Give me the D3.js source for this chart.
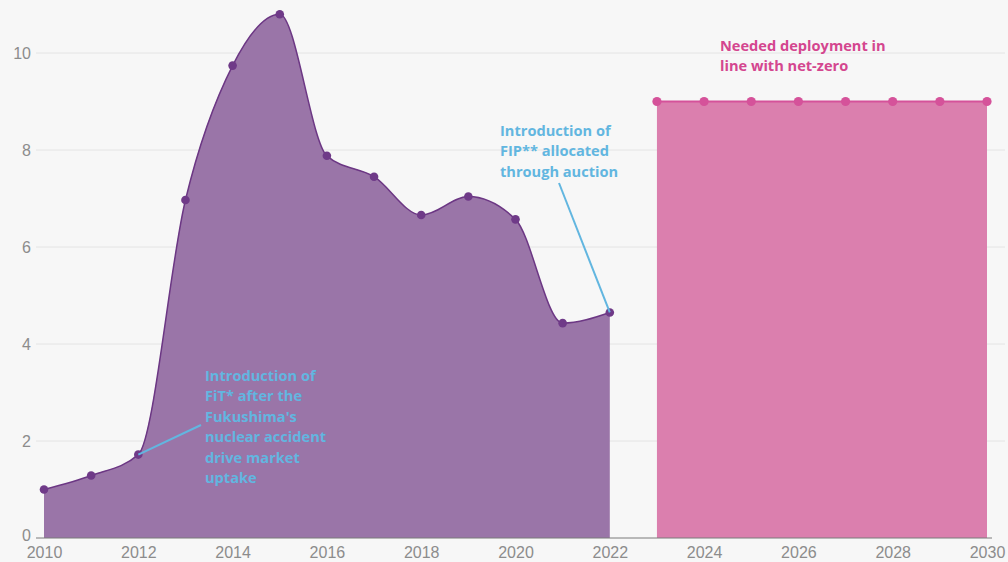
<!DOCTYPE html>
<html lang="en">
<head>
    <meta charset="UTF-8">
    <title>Deployment chart</title>
    <style>
        body {
            margin: 0;
            background-color: #f7f7f7;
        }
        svg {
            display: block;
            font-family: Roboto, "Open Sans", sans-serif;
        }
        .tick text {
            fill: #8c8c8c;
            font-size: 16px;
            font-weight: 300;
        }
        .note {
            font-family: "Open Sans", sans-serif;
            font-weight: bold;
            font-size: 14.6px;
        }
    </style>
    <script src="https://d3js.org/d3.v7.min.js"></script>
</head>
<body>
    <svg width="1008" height="562"></svg>

    <script>
        // historical capacity additions
        const histYears = [2010, 2011, 2012, 2013, 2014, 2015, 2016, 2017, 2018, 2019, 2020, 2021, 2022];
        const histValues = [1.0, 1.29, 1.72, 6.97, 9.74, 10.8, 7.88, 7.45, 6.66, 7.04, 6.57, 4.43, 4.65];

        // needed deployment in line with net-zero
        const needYears = [2023, 2024, 2025, 2026, 2027, 2028, 2029, 2030];
        const needValues = [9, 9, 9, 9, 9, 9, 9, 9];

        const xTicks = [2010, 2012, 2014, 2016, 2018, 2020, 2022, 2024, 2026, 2028, 2030];
        const yTicks = [0, 2, 4, 6, 8, 10];

        const fitNote = ["Introduction of", "FiT* after the", "Fukushima's", "nuclear accident", "drive market", "uptake"];
        const fipNote = ["Introduction of", "FIP** allocated", "through auction"];
        const needNote = ["Needed deployment in", "line with net-zero"];

        const hist = histYears.map((y, i) => ({year: y, value: histValues[i]}));
        const need = needYears.map((y, i) => ({year: y, value: needValues[i]}));

        const svg = d3.select("svg");

        const x = d3.scaleLinear().domain([2010, 2030]).range([44, 987]);
        const y = d3.scaleLinear().domain([0, 10]).range([538, 53]);

        // Сітка
        svg.append("g")
            .selectAll("line")
            .data(yTicks.filter(d => d > 0))
            .enter().append("line")
            .attr("x1", 36)
            .attr("x2", 1005)
            .attr("y1", d => y(d))
            .attr("y2", d => y(d))
            .style("stroke", "#e4e4e4")
            .style("stroke-width", 1);

        // y axis labels
        const yAxis = svg.append("g")
            .attr("transform", "translate(35,0)")
            .call(d3.axisLeft(y).tickValues(yTicks).tickSize(0).tickPadding(4));
        yAxis.select(".domain").remove();
        yAxis.selectAll(".tick text").attr("dy", d => d === 0 ? "0.15em" : "0.32em");

        // areas
        const histArea = d3.area()
            .x(d => x(d.year))
            .y0(y(0))
            .y1(d => y(d.value))
            .curve(d3.curveMonotoneX);
        const histLine = d3.line()
            .x(d => x(d.year))
            .y(d => y(d.value))
            .curve(d3.curveMonotoneX);

        svg.append("path")
            .datum(hist)
            .attr("d", histArea)
            .style("fill", "#9a75a8");
        svg.append("path")
            .datum(hist)
            .attr("d", histLine)
            .style("fill", "none")
            .style("stroke", "#6c3784")
            .style("stroke-width", 1.5);

        const needArea = d3.area()
            .x(d => x(d.year))
            .y0(y(0))
            .y1(d => y(d.value));

        svg.append("path")
            .datum(need)
            .attr("d", needArea)
            .style("fill", "#db7fae");
        svg.append("path")
            .datum(need)
            .attr("d", d3.line().x(d => x(d.year)).y(d => y(d.value)))
            .style("fill", "none")
            .style("stroke", "#d5529a")
            .style("stroke-width", 2);

        // baseline
        svg.append("line")
            .attr("x1", 36)
            .attr("x2", 992)
            .attr("y1", y(0))
            .attr("y2", y(0))
            .style("stroke", "#7a7a7a")
            .style("stroke-width", 1);

        // x axis labels
        const xAxis = svg.append("g")
            .attr("transform", `translate(0,${y(0)})`)
            .call(d3.axisBottom(x).tickValues(xTicks).tickFormat(d3.format("d")).tickSize(0).tickPadding(9));
        xAxis.select(".domain").remove();

        // points
        svg.selectAll("circle.hist")
            .data(hist)
            .enter().append("circle")
            .attr("class", "hist")
            .attr("cx", d => x(d.year))
            .attr("cy", d => y(d.value))
            .attr("r", 4.3)
            .style("fill", "#6f3a88");

        svg.selectAll("circle.need")
            .data(need)
            .enter().append("circle")
            .attr("class", "need")
            .attr("cx", d => x(d.year))
            .attr("cy", d => y(d.value))
            .attr("r", 4.6)
            .style("fill", "#d5529a");

        // annotations
        const noteBlue = "#62b6e0";

        svg.append("line")
            .attr("x1", x(2012))
            .attr("y1", y(histValues[2]))
            .attr("x2", 201)
            .attr("y2", 425)
            .style("stroke", noteBlue)
            .style("stroke-width", 2);

        svg.append("line")
            .attr("x1", 559)
            .attr("y1", 183)
            .attr("x2", x(2022))
            .attr("y2", y(histValues[12]))
            .style("stroke", noteBlue)
            .style("stroke-width", 2);

        function addNote(lines, xPos, yPos, color) {
            svg.append("text")
                .attr("class", "note")
                .attr("x", xPos)
                .attr("y", yPos)
                .style("fill", color)
                .selectAll("tspan")
                .data(lines)
                .enter().append("tspan")
                .attr("x", xPos)
                .attr("dy", (d, i) => i === 0 ? 0 : 20.4)
                .text(d => d);
        }

        addNote(fitNote, 205, 381, noteBlue);
        addNote(fipNote, 500, 136, noteBlue);
        addNote(needNote, 720, 51, "#d4468f");
    </script>
</body>
</html>
